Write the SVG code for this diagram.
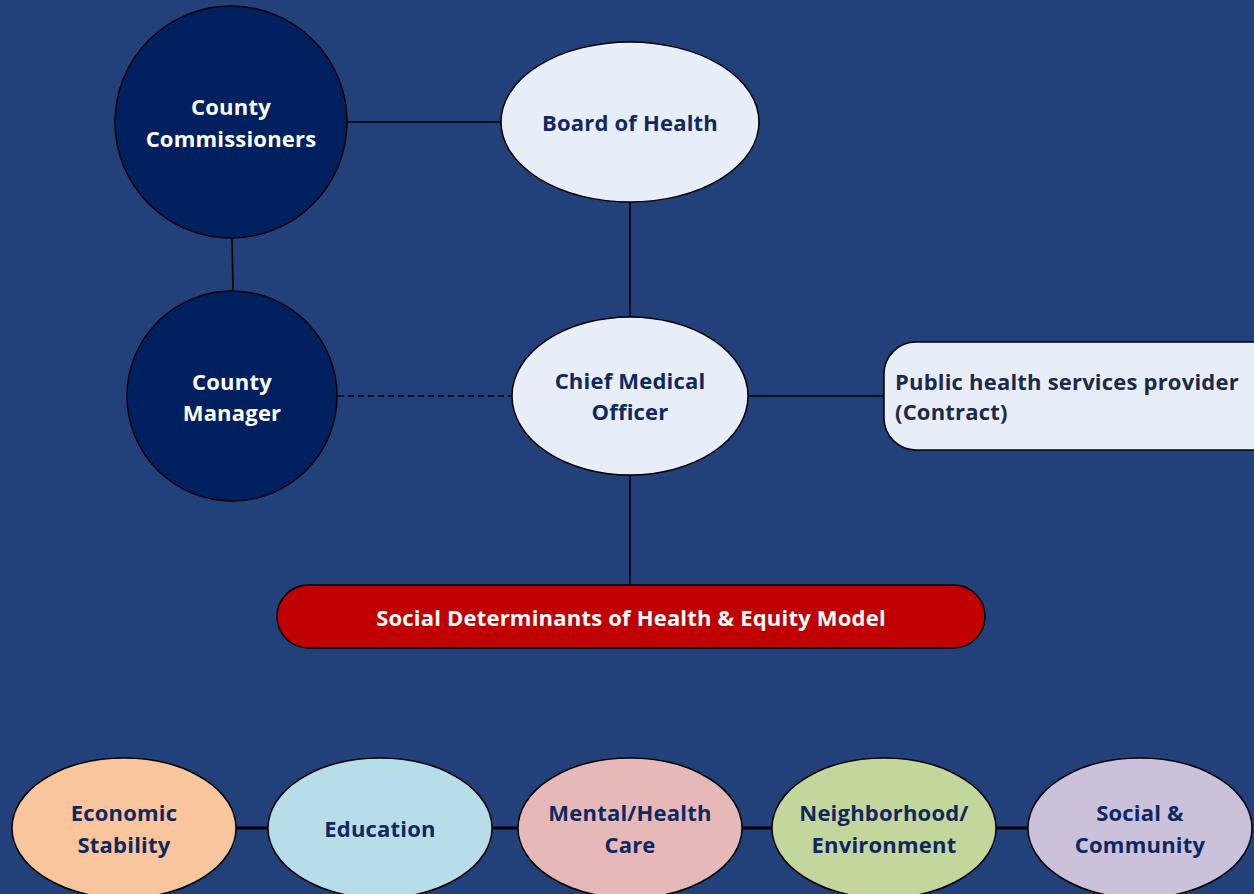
<svg xmlns="http://www.w3.org/2000/svg" width="1254" height="894" viewBox="0 0 1254 894">
<style>
text{font-family:"Open Sans","Liberation Sans",sans-serif;font-weight:bold;font-size:22px;letter-spacing:0.2px;text-anchor:middle;dominant-baseline:central}
.n{stroke:#000;stroke-width:1.5}
.dk{fill:#002060}
.lt{fill:#E7EEF8}
.w{fill:#fff}
.b{fill:#0F2860}
.c{stroke:#000;stroke-width:1.6;fill:none}
.t{stroke-width:3}
</style>
<rect width="1254" height="894" fill="#22407A"/>
<g id="connectors">
<line class="c" x1="348" y1="122" x2="501" y2="122"/>
<line class="c" x1="232" y1="238" x2="233" y2="290"/>
<line class="c" x1="630" y1="202" x2="630" y2="317"/>
<line class="c" x1="338" y1="396" x2="512" y2="396" stroke-dasharray="6,4"/>
<line class="c" x1="749" y1="396" x2="884" y2="396"/>
<line class="c" x1="630" y1="475" x2="630" y2="585"/>
<line class="c t" x1="236" y1="828" x2="268" y2="828"/>
<line class="c t" x1="492" y1="828" x2="518" y2="828"/>
<line class="c t" x1="742" y1="828" x2="772" y2="828"/>
<line class="c t" x1="996" y1="828" x2="1028" y2="828"/>
</g>
<g id="county-commissioners">
<ellipse class="n dk" cx="231" cy="122" rx="116" ry="116"/>
<text class="w" x="231" y="106">County</text>
<text class="w" x="231" y="138">Commissioners</text>
</g>
<g id="board-of-health">
<ellipse class="n lt" cx="630" cy="122" rx="129" ry="80"/>
<text class="b" x="630" y="122">Board of Health</text>
</g>
<g id="county-manager">
<ellipse class="n dk" cx="232" cy="396" rx="105" ry="105"/>
<text class="w" x="232" y="381">County</text>
<text class="w" x="232" y="412">Manager</text>
</g>
<g id="chief-medical-officer">
<ellipse class="n lt" cx="630" cy="396" rx="118" ry="79"/>
<text class="b" x="630" y="380">Chief Medical</text>
<text class="b" x="630" y="411">Officer</text>
</g>
<g id="public-health-provider">
<rect class="n lt" x="884" y="342" width="400" height="108" rx="32"/>
<text x="895" y="381" style="text-anchor:start;fill:#1C2A4A">Public health services provider</text>
<text x="895" y="411" style="text-anchor:start;fill:#1C2A4A">(Contract)</text>
</g>
<g id="sdoh-model">
<rect class="n" x="277" y="585" width="708" height="63" rx="31.5" fill="#C00000"/>
<text class="w" x="631" y="617">Social Determinants of Health &amp; Equity Model</text>
</g>
<g id="economic-stability">
<ellipse class="n" cx="124" cy="828" rx="112" ry="70" fill="#F9C59C"/>
<text class="b" x="124" y="812">Economic</text>
<text class="b" x="124" y="844">Stability</text>
</g>
<g id="education">
<ellipse class="n" cx="380" cy="828" rx="112" ry="70" fill="#B7DEE8"/>
<text class="b" x="380" y="828">Education</text>
</g>
<g id="mental-health-care">
<ellipse class="n" cx="630" cy="828" rx="112" ry="70" fill="#E6B9B8"/>
<text class="b" x="630" y="812">Mental/Health</text>
<text class="b" x="630" y="844">Care</text>
</g>
<g id="neighborhood-environment">
<ellipse class="n" cx="884" cy="828" rx="112" ry="70" fill="#C3D69B"/>
<text class="b" x="884" y="812">Neighborhood/</text>
<text class="b" x="884" y="844">Environment</text>
</g>
<g id="social-community">
<ellipse class="n" cx="1140" cy="828" rx="112" ry="70" fill="#CCC1DA"/>
<text class="b" x="1140" y="812">Social &amp;</text>
<text class="b" x="1140" y="844">Community</text>
</g>
</svg>
